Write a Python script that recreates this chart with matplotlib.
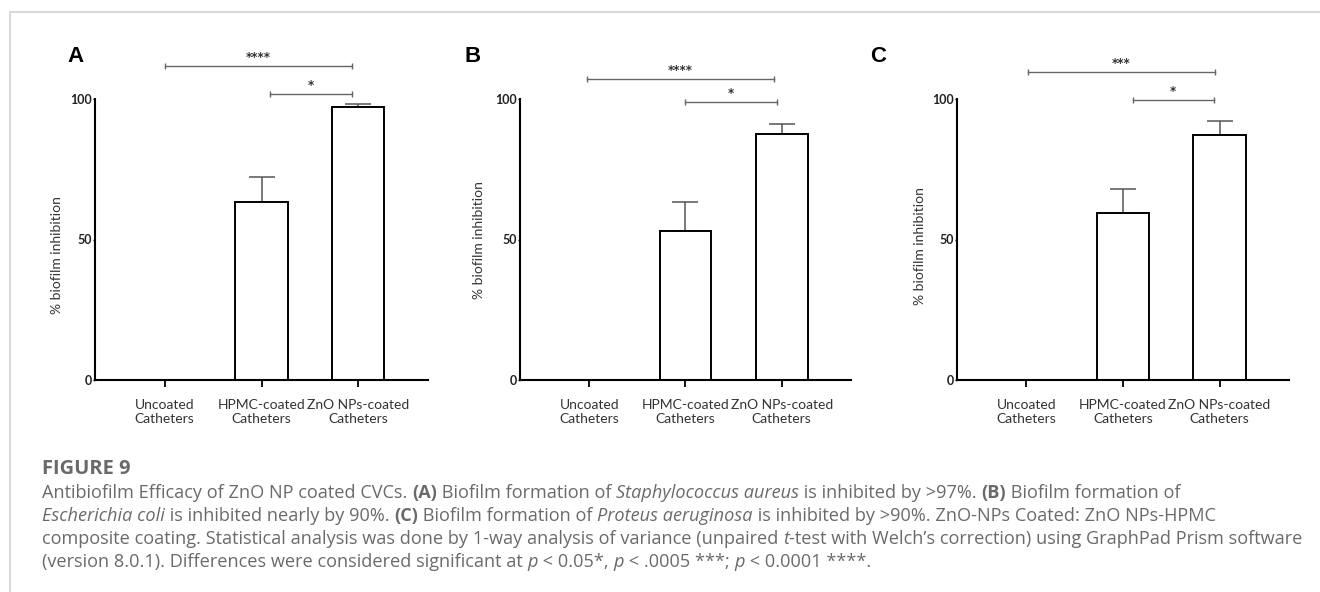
import matplotlib
matplotlib.use("Agg")
import matplotlib.pyplot as plt
from matplotlib.lines import Line2D

# data
groups = ["Uncoated\nCatheters", "HPMC-coated\nCatheters", "ZnO NPs-coated\nCatheters"]
panels = ["A", "B", "C"]
inhibition_a = [0, 63.3, 97.2]
inhibition_b = [0, 53.0, 87.5]
inhibition_c = [0, 59.6, 87.3]
err_a = [0, 8.9, 1.0]
err_b = [0, 10.3, 3.5]
err_c = [0, 8.3, 4.9]
stars_long = ["****", "****", "***"]
stars_short = ["*", "*", "*"]

values = [inhibition_a, inhibition_b, inhibition_c]
errors = [err_a, err_b, err_c]

W, H = 1320, 592
fig = plt.figure(figsize=(W / 100, H / 100), dpi=100)

def px(x, y):
    return x / W, 1 - y / H

# axes placement in pixels: left, right, y of 0, y of 100
boxes = [(95, 428), (520, 851), (957, 1289)]
y0, y100 = 380, 99
letter_pos = [(75, 57), (473, 57), (878, 57)]
ylabel_pos = [(57, 255), (479, 240), (920, 246)]
# brackets: (x start, x end, y level) in data units
long_br = [(0.0, 1.94, 111.7), (-0.02, 1.92, 107.1), (0.02, 1.95, 109.6)]
short_br = [(1.09, 1.94, 101.8), (1.0, 1.95, 98.9), (1.10, 1.94, 99.6)]

label_font = "Lato"
for i in range(3):
    l, r = boxes[i]
    ax = fig.add_axes([l / W, 1 - y0 / H, (r - l) / W, (y0 - y100) / H])
    ax.bar(range(3), values[i], width=0.54, color="white", edgecolor="black",
           linewidth=1.4, zorder=2)
    ax.errorbar(range(3), values[i], yerr=[[0, 0, 0], errors[i]], fmt="none",
                ecolor="#555555", elinewidth=1.1, capsize=9.7, capthick=1.1, zorder=1)
    ax.set_xlim(-0.72, 2.72)
    ax.set_ylim(0, 100)
    ax.set_yticks([0, 50, 100])
    ax.set_yticklabels(["0", "50", "100"], fontfamily=label_font,
                       fontweight="bold", fontsize=9, color="#222222")
    ax.set_xticks(range(3))
    ax.set_xticklabels(groups, fontfamily=label_font, fontsize=10,
                       color="#333333", linespacing=1.15)
    ax.tick_params(axis="x", length=5, width=1.3, pad=9)
    ax.tick_params(axis="y", length=1.5, width=1, pad=1)
    for s in ["top", "right"]:
        ax.spines[s].set_visible(False)
    for s in ["left", "bottom"]:
        ax.spines[s].set_linewidth(1.5)

    for (xa, xb, yl), lab in [(long_br[i], stars_long[i]), (short_br[i], stars_short[i])]:
        ax.plot([xa, xb], [yl, yl], color="#666666", lw=1, clip_on=False)
        ax.plot([xa, xb], [yl, yl], ls="none", marker="|", ms=5, mew=1,
                color="#666666", clip_on=False)
        ax.annotate(lab, xy=((xa + xb) / 2, yl), xytext=(0, 1.5),
                    textcoords="offset points", ha="center", va="bottom",
                    fontsize=8.5, fontweight="bold", color="#333333",
                    annotation_clip=False)

    fx, fy = px(*letter_pos[i])
    fig.text(fx, fy, panels[i], ha="center", va="center", fontsize=16,
             fontweight="bold", fontfamily="Liberation Sans")
    fx, fy = px(*ylabel_pos[i])
    fig.text(fx, fy, "% biofilm inhibition", rotation=90, ha="center",
             va="center", fontsize=10, fontfamily=label_font, color="#333333")

# page frame
fig.add_artist(Line2D([10 / W, 1], [1 - 11.5 / H] * 2, color="#d9d9d9", lw=1.5))
fig.add_artist(Line2D([10 / W] * 2, [0, 1 - 11.5 / H], color="#d9d9d9", lw=1.5))

# caption
cap = fig.add_axes([0, 0, 1, 1])
cap.axis("off")
cap.set_xlim(0, 1)
cap.set_ylim(0, 1)
gray = "#6a6a6a"
cap_font = "Open Sans"
cap_size = 13.05

def style(kind):
    d = dict(fontsize=cap_size, fontfamily=cap_font, color=gray)
    if kind == "b":
        d["fontweight"] = "bold"
    if kind == "i":
        d["fontstyle"] = "italic"
    return d

def rich_line(y, parts):
    x0, yy = px(42, y)
    t = cap.text(x0, yy, parts[0][0], va="center", **style(parts[0][1]))
    for s, kind in parts[1:]:
        t = cap.annotate(s, xycoords=t, xy=(1, 0), va="bottom", **style(kind))

fx, fy = px(42, 469)
cap.text(fx, fy, "FIGURE 9", va="center", fontsize=14.5, fontweight="bold",
         fontfamily=cap_font, color=gray)

rich_line(493, [("Antibiofilm Efficacy of ZnO NP coated CVCs. ", "r"), ("(A)", "b"),
                (" Biofilm formation of ", "r"), ("Staphylococcus aureus", "i"),
                (" is inhibited by >97%. ", "r"), ("(B)", "b"),
                (" Biofilm formation of", "r")])
rich_line(516, [("Escherichia coli", "i"), (" is inhibited nearly by 90%. ", "r"),
                ("(C)", "b"), (" Biofilm formation of ", "r"),
                ("Proteus aeruginosa", "i"),
                (" is inhibited by >90%. ZnO-NPs Coated: ZnO NPs-HPMC", "r")])
rich_line(539, [("composite coating. Statistical analysis was done by 1-way analysis "
                 "of variance (unpaired ", "r"), ("t", "i"),
                ("-test with Welch\u2019s correction) using GraphPad Prism software", "r")])
rich_line(562, [("(version 8.0.1). Differences were considered significant at ", "r"),
                ("p", "i"), (" < 0.05*, ", "r"), ("p", "i"), (" < .0005 ***; ", "r"),
                ("p", "i"), (" < 0.0001 ****.", "r")])

plt.savefig("out.png", dpi=100)
